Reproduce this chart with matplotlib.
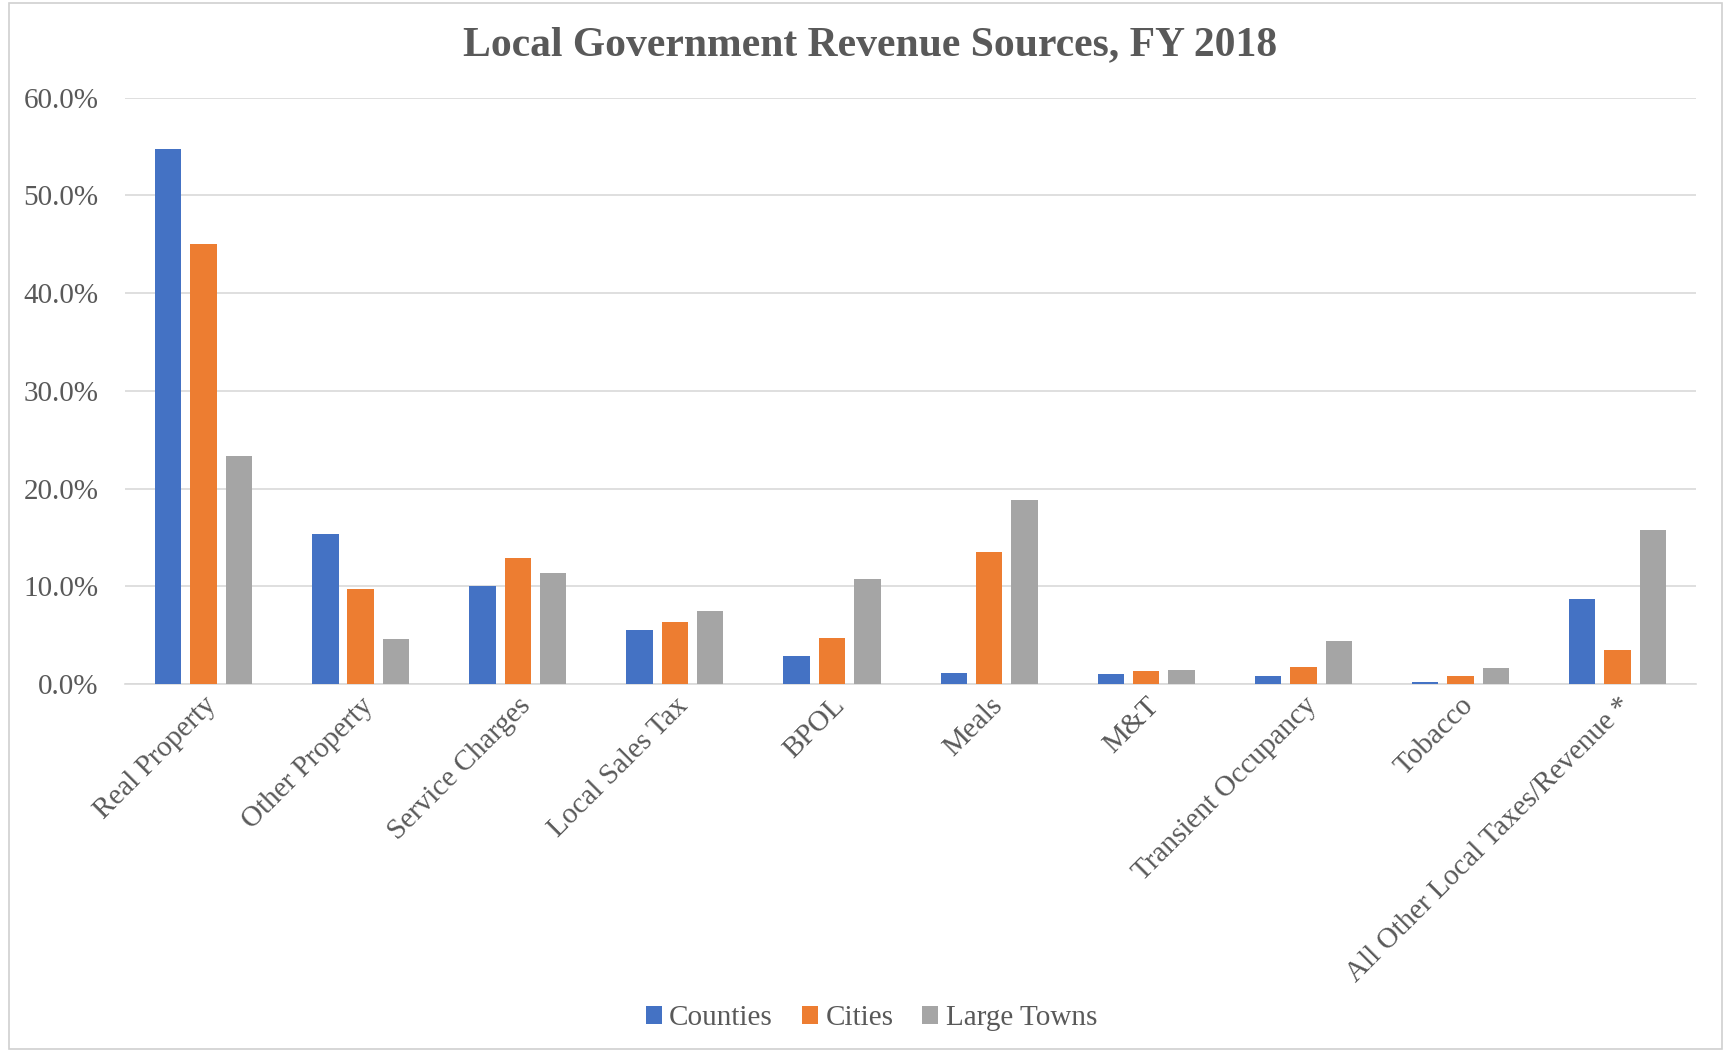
import numpy as np
import matplotlib.pyplot as plt
from matplotlib.patches import Rectangle

# Revenue source shares by locality type (percent of local revenue)
categories = ["Real Property", "Other Property", "Service Charges", "Local Sales Tax",
              "BPOL", "Meals", "M&T", "Transient Occupancy", "Tobacco",
              "All Other Local Taxes/Revenue *"]
counties = [54.8, 15.4, 10.0, 5.5, 2.9, 1.1, 1.0, 0.8, 0.2, 8.7]
cities = [45.0, 9.7, 12.9, 6.4, 4.7, 13.5, 1.4, 1.8, 0.8, 3.5]
large_towns = [23.3, 4.6, 11.4, 7.5, 10.8, 18.8, 1.5, 4.4, 1.7, 15.8]
series_names = ["Counties", "Cities", "Large Towns"]
yticks = [0, 10, 20, 30, 40, 50, 60]

colors = ["#4472C4", "#ED7D31", "#A5A5A5"]
text_col = "#595959"
grid_col = "#D9D9D9"

plt.rcParams['font.family'] = ['Liberation Serif', 'DejaVu Serif']

fig = plt.figure(figsize=(17.29, 10.51), dpi=100)
ax = fig.add_axes([0.0723, 0.349, 0.9087, 0.558])

x = np.arange(len(categories))
width = 0.168
step = 0.225
for i, (vals, name) in enumerate(zip([counties, cities, large_towns], series_names)):
    ax.bar(x + (i - 1) * step, vals, width, color=colors[i], label=name, zorder=3)

ax.set_xlim(-0.5, len(categories) - 0.5)
ax.set_ylim(0, 60)
ax.set_yticks(yticks)
ax.set_yticklabels([f"{v:.1f}%" for v in yticks], fontsize=21, color=text_col)
ax.set_xticks(x)
ax.set_xticklabels(categories, rotation=45, ha='right', rotation_mode='anchor',
                   fontsize=21, color=text_col)
ax.tick_params(axis='both', length=0)
ax.tick_params(axis='y', pad=19)
ax.tick_params(axis='x', pad=6)
ax.grid(axis='y', color=grid_col, linewidth=1.2, zorder=0)
for s in ['top', 'right', 'left']:
    ax.spines[s].set_visible(False)
ax.spines['bottom'].set_color(grid_col)
ax.spines['bottom'].set_linewidth(1.2)

fig.text(0.503, 0.957, "Local Government Revenue Sources, FY 2018", ha='center', va='center',
         fontsize=30, fontweight='bold', color=text_col)

leg = fig.legend(loc='center', bbox_to_anchor=(0.504, 0.031), ncol=3, frameon=False,
                 fontsize=21, handlelength=0.55, handleheight=0.55, handletextpad=0.25,
                 columnspacing=1.0)
for t in leg.get_texts():
    t.set_color(text_col)

# thin frame around the chart area
fig.patches.append(Rectangle((0.005, 0.002), 0.991, 0.995, transform=fig.transFigure,
                             fill=False, edgecolor="#D0D0D0", linewidth=1.2))

fig.savefig("out.png", dpi=100)
